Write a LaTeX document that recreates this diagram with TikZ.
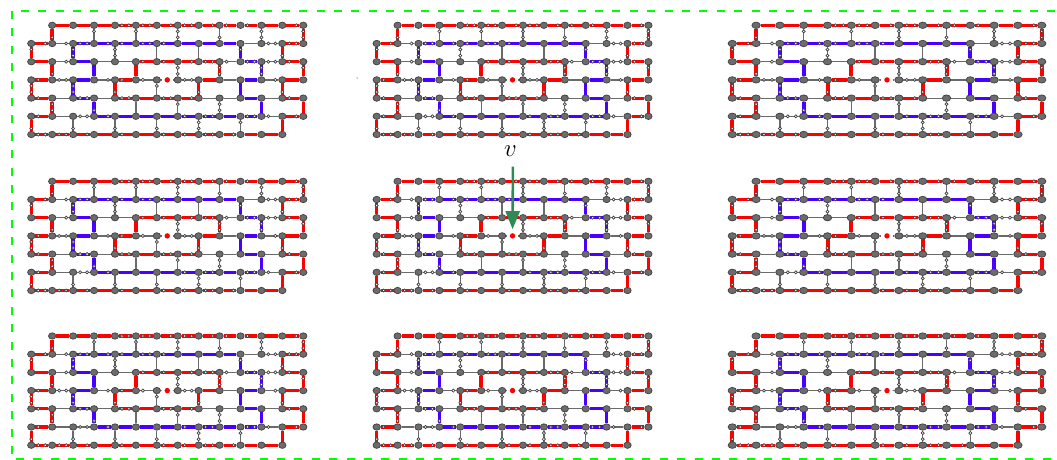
\documentclass[tikz,border=0pt]{standalone}
\usepackage{tikz}
\usetikzlibrary{calc, arrows.meta, shapes.geometric}
\definecolor{linkRedC}{HTML}{FF0000}
\definecolor{linkBlueC}{HTML}{4A00FF}
\definecolor{linkGrayC}{HTML}{6A6A6A}
\definecolor{vertexC}{HTML}{6C6C6C}
\definecolor{vertexEdge}{HTML}{404040}
\definecolor{frameC}{HTML}{00FF00}
\definecolor{arrowC}{HTML}{2E8B57}
\def\lwThick{3.2pt}
\def\lwThin{1.2pt}
\def\vertexStretch{1}
\def\rowGap{18.2}
\tikzset{
  vertex/.style={ellipse, draw=vertexEdge, fill=vertexC, line width=0.7pt, inner sep=0pt,
    minimum width={7.4pt*\vertexStretch}, minimum height=6.4pt},
  midpoint/.style={circle, draw=vertexEdge, fill=white, line width=0.7pt, inner sep=0pt, minimum size=3.1pt},
  holeDot/.style={circle, fill=linkRedC, inner sep=0pt, minimum size=5.4pt, outer sep=3pt},
  linkR/.style={draw=linkRedC, line width=\lwThick},
  linkB/.style={draw=linkBlueC, line width=\lwThick},
  linkG/.style={draw=linkGrayC, line width=\lwThin},
  linkN/.style={draw=none}
}

% midpoints on one link: 1 = first third, 2 = second third, 3 = both
\newcommand{\linkmarks}[4]{%
  \ifodd#3\relax \node[midpoint] (#4a) at ($(#1)!0.333!(#2)$) {};\fi
  \ifnum#3>1\relax \node[midpoint] (#4b) at ($(#1)!0.667!(#2)$) {};\fi
}

% one brick wall: name, left x, top y, column step
\newcommand{\brickpanel}[4]{%
  \pgfmathsetmacro{\vertexStretch}{#4/20.9}
  % vertices
  \foreach \rowi/\cola/\colb in {0/1/13, 1/0/13, 2/0/13, 3/0/13, 4/0/13, 5/0/13, 6/0/12}
    \foreach \coli in {\cola,...,\colb}
      \node[vertex] (#1r\rowi c\coli) at ({#2+\coli*#4}, {#3+\rowi*\rowGap}) {};
  % row links
  \foreach \rowi/\cola/\links in {
    0/1/{linkR/0,linkR/0,linkR/0,linkR/3,linkR/3,linkR/2,linkR/3,linkR/2,linkR/1,linkR/1,linkR/0,linkR/2},
    1/0/{linkR/2,linkG/2,linkB/3,linkB/2,linkB/1,linkB/3,linkB/1,linkB/0,linkB/0,linkB/0,linkG/0,linkG/3,linkR/3},
    2/0/{linkR/0,linkG/2,linkB/0,linkG/0,linkG/0,linkR/1,linkR/1,linkR/2,linkR/3,linkG/1,linkB/3,linkG/3,linkR/1},
    3/0/{linkR/1,linkG/3,linkB/0,linkG/2,linkR/1,linkG/1,linkN/0,linkG/3,linkR/0,linkG/0,linkB/0,linkG/2,linkR/0},
    4/0/{linkR/1,linkG/0,linkB/3,linkG/0,linkR/3,linkR/0,linkR/3,linkR/2,linkG/0,linkG/0,linkB/0,linkG/0,linkR/1},
    5/0/{linkR/1,linkG/0,linkG/3,linkB/2,linkB/0,linkB/0,linkB/0,linkB/1,linkB/3,linkB/0,linkB/3,linkG/1,linkR/2},
    6/0/{linkR/3,linkR/3,linkR/2,linkR/0,linkR/1,linkR/0,linkR/1,linkR/1,linkR/3,linkR/2,linkR/0,linkR/0}}
    \foreach \kind/\mk [count=\coli from \cola] in \links {
      \pgfmathtruncatemacro{\colj}{\coli+1}
      \draw[\kind] (#1r\rowi c\coli) -- (#1r\rowi c\colj);
      \linkmarks{#1r\rowi c\coli}{#1r\rowi c\colj}{\mk}{#1h\rowi c\coli}
    }
  % column links
  \pgfmathsetmacro{\lwThick}{3.5*\vertexStretch}
  \pgfmathsetmacro{\lwThin}{1.3*\vertexStretch}
  \edef\lwThick{\lwThick pt}
  \edef\lwThin{\lwThin pt}
  \foreach \rowi/\links in {
    0/{1/linkR/2, 3/linkG/1, 5/linkG/1, 7/linkG/3, 9/linkG/2, 11/linkG/3, 13/linkR/3},
    1/{0/linkR/1, 2/linkB/3, 4/linkG/3, 6/linkG/0, 8/linkG/0, 10/linkB/1, 12/linkR/2},
    2/{1/linkR/2, 3/linkB/0, 5/linkR/0, 7/linkG/3, 9/linkR/3, 11/linkB/3, 13/linkR/1},
    3/{0/linkR/3, 2/linkB/3, 4/linkR/2, 6/linkG/1, 8/linkR/2, 10/linkB/0, 12/linkR/2},
    4/{1/linkR/3, 3/linkB/2, 5/linkG/0, 7/linkG/1, 9/linkG/3, 11/linkB/0, 13/linkR/0},
    5/{0/linkR/2, 2/linkG/2, 4/linkG/2, 6/linkG/2, 8/linkG/3, 10/linkG/1, 12/linkR/0}}
    \foreach \coli/\kind/\mk in \links {
      \pgfmathtruncatemacro{\rowj}{\rowi+1}
      \draw[\kind] (#1r\rowi c\coli) -- (#1r\rowj c\coli);
      \linkmarks{#1r\rowi c\coli}{#1r\rowj c\coli}{\mk}{#1v\rowi c\coli}
    }
  % the removed vertex
  \def\lwThin{1.2pt}
  \node[holeDot] (#1hole) at ($(#1r3c6)!0.5!(#1r3c7)$) {};
  \draw[linkG] (#1r3c6) -- (#1hole);
  \draw[linkG] (#1hole) -- (#1r3c7);
}

\begin{document}
\begin{tikzpicture}[x=1pt, y=-1pt]
  \useasboundingbox (0,0) rectangle (1057,460);

  % Frame, open at the right edge
  \draw[frameC, line width=2.6pt, dash pattern=on 8pt off 9.4pt, dash phase=8.7pt]
    (12,11) -- (1062,11);
  \draw[frameC, line width=2.6pt, dash pattern=on 8pt off 9.4pt]
    (12,11) -- (12,459.5) -- (1062,459.5);

  % Panels
  \foreach \cx/\cw [count=\col] in {31.3/20.92, 376.7/20.9, 732.3/23.8}{
    \foreach \cy [count=\rw] in {25.3, 181.3, 336}{
      \brickpanel{p\col\rw}{\cx}{\cy}{\cw}
    }
  }

  % Stray point next to the top middle panel
  \fill[black] (357,78) circle (0.5pt);

  % Label and arrow
  \node[font=\fontsize{24}{26}\selectfont, inner sep=0pt] (labelV) at (510.5,151) {$v$};
  \draw[arrowC, line width=2.6pt, -{Triangle[length=18pt, width=14pt]}, shorten <=10pt, shorten >=1pt]
    ([xshift=2.5pt]labelV.south) -- (p22hole.north);
\end{tikzpicture}
\end{document}
